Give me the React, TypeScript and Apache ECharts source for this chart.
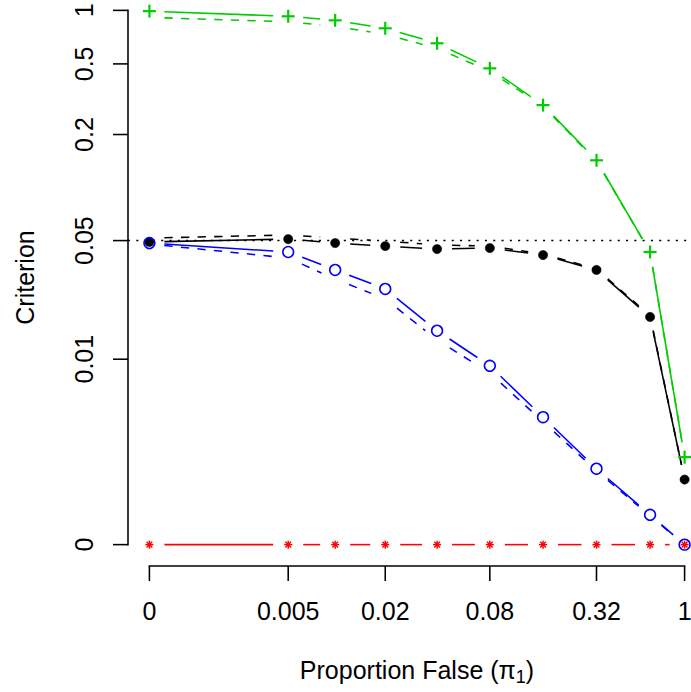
import React, { useEffect, useRef } from "react";
import * as echarts from "echarts";

// ---- data ----
const X_VALUES = [0, 0.005, 0.01, 0.02, 0.04, 0.08, 0.16, 0.32, 0.64, 1];

const GREEN_MAIN = [0.99, 0.926, 0.879, 0.793, 0.653, 0.472, 0.293, 0.143, 0.043, 0.0021];
const GREEN_DASHED = [0.913, 0.862, 0.813, 0.733, 0.612, 0.454, 0.289, 0.1415, 0.043, 0.0021];

const BLACK_MAIN = [0.0491, 0.051, 0.0484, 0.0465, 0.0447, 0.0453, 0.0413, 0.0339, 0.018, 0.00132];
const BLACK_DASHED = [0.0517, 0.0538, 0.0517, 0.0497, 0.0472, 0.0465, 0.0419, 0.0343, 0.0183, 0.00132];

const BLUE_MAIN = [0.0484, 0.043, 0.0339, 0.0263, 0.0149, 0.0091, 0.0042, 0.00167, 0.00047, 0];
const BLUE_DASHED = [0.0478, 0.0397, 0.03, 0.023, 0.0131, 0.0082, 0.0039, 0.0016, 0.00045, 0];

const RED_MAIN = [0, 0, 0, 0, 0, 0, 0, 0, 0, 0];

const REFERENCE_LEVEL = 0.05;

const X_TICKS = [0, 0.005, 0.02, 0.08, 0.32, 1];
const X_TICK_LABELS = ["0", "0.005", "0.02", "0.08", "0.32", "1"];
const Y_TICKS = [0, 0.01, 0.05, 0.2, 0.5, 1];
const Y_TICK_LABELS = ["0", "0.01", "0.05", "0.2", "0.5", "1"];

// ---- scale transform: log10(v + 0.001) ----
const OFFSET = 0.001;
const T = (v: number) => Math.log10(v + OFFSET);

const FONT = "'Liberation Sans', Arial, Helvetica, sans-serif";
const LW = 1.56;
const GAP = 15;
const TICK_LEN = 15;

const GREEN = "#00CD00";
const BLUE = "#0000FF";
const RED = "#FF0000";
const BLACK = "#000000";

function extent(vals: number[]) {
  const lo = T(Math.min(...vals));
  const hi = T(Math.max(...vals));
  const pad = 0.04 * (hi - lo);
  return [lo - pad, hi + pad];
}

function segData(xs: number[], ys: number[]) {
  const out: number[][] = [];
  for (let i = 0; i < xs.length - 1; i++) {
    out.push([T(xs[i]), T(ys[i]), T(xs[i + 1]), T(ys[i + 1])]);
  }
  return out;
}

function gappedLines(ys: number[], color: string, dash: number[] | null, z: number) {
  return {
    type: "custom",
    coordinateSystem: "cartesian2d",
    clip: false,
    z,
    silent: true,
    data: segData(X_VALUES, ys),
    encode: { x: [0, 2], y: [1, 3] },
    renderItem: (params: any, api: any) => {
      const p1 = api.coord([api.value(0), api.value(1)]);
      const p2 = api.coord([api.value(2), api.value(3)]);
      const dx = p2[0] - p1[0];
      const dy = p2[1] - p1[1];
      const len = Math.sqrt(dx * dx + dy * dy);
      if (len <= 2 * GAP) return null;
      const ux = dx / len;
      const uy = dy / len;
      return {
        type: "line",
        shape: {
          x1: p1[0] + ux * GAP,
          y1: p1[1] + uy * GAP,
          x2: p2[0] - ux * GAP,
          y2: p2[1] - uy * GAP,
        },
        style: {
          stroke: color,
          lineWidth: LW,
          lineDash: dash || undefined,
          fill: null,
        },
      };
    },
  };
}

function markers(ys: number[], kind: string, color: string, z: number) {
  return {
    type: "custom",
    coordinateSystem: "cartesian2d",
    clip: false,
    z,
    silent: true,
    data: X_VALUES.map((x, i) => [T(x), T(ys[i])]),
    encode: { x: 0, y: 1 },
    renderItem: (params: any, api: any) => {
      const p = api.coord([api.value(0), api.value(1)]);
      const cx = p[0];
      const cy = p[1];
      if (kind === "plus") {
        const h = 6.5;
        return {
          type: "group",
          children: [
            { type: "line", shape: { x1: cx - h, y1: cy, x2: cx + h, y2: cy }, style: { stroke: color, lineWidth: 2.2 } },
            { type: "line", shape: { x1: cx, y1: cy - h, x2: cx, y2: cy + h }, style: { stroke: color, lineWidth: 2.2 } },
          ],
        };
      }
      if (kind === "dot") {
        return { type: "circle", shape: { cx, cy, r: 4.6 }, style: { fill: color, stroke: color, lineWidth: 0.5 } };
      }
      if (kind === "ring") {
        return { type: "circle", shape: { cx, cy, r: 5.4 }, style: { fill: null, stroke: color, lineWidth: LW } };
      }
      const r = 4;
      const children: any[] = [];
      for (let k = 0; k < 4; k++) {
        const a = (k * Math.PI) / 4;
        children.push({
          type: "line",
          shape: { x1: cx - r * Math.cos(a), y1: cy - r * Math.sin(a), x2: cx + r * Math.cos(a), y2: cy + r * Math.sin(a) },
          style: { stroke: color, lineWidth: 1.5 },
        });
      }
      return { type: "group", children };
    },
  };
}

// axis line + outward ticks, R style (line spans first..last tick)
function axisSeries(dim: "x" | "y", ticksT: number[], otherMin: number) {
  return {
    type: "custom",
    coordinateSystem: "cartesian2d",
    clip: false,
    z: 1,
    silent: true,
    data: ticksT.map((t) => [t]),
    renderItem: (params: any, api: any) => {
      const t = api.value(0);
      const p = dim === "x" ? api.coord([t, otherMin]) : api.coord([otherMin, t]);
      const children: any[] = [];
      if (dim === "x") {
        children.push({ type: "line", shape: { x1: p[0], y1: p[1], x2: p[0], y2: p[1] + TICK_LEN }, style: { stroke: BLACK, lineWidth: LW } });
      } else {
        children.push({ type: "line", shape: { x1: p[0], y1: p[1], x2: p[0] - TICK_LEN, y2: p[1] }, style: { stroke: BLACK, lineWidth: LW } });
      }
      if (params.dataIndex === 0) {
        const last = ticksT[ticksT.length - 1];
        const q = dim === "x" ? api.coord([last, otherMin]) : api.coord([otherMin, last]);
        children.push({ type: "line", shape: { x1: p[0], y1: p[1], x2: q[0], y2: q[1] }, style: { stroke: BLACK, lineWidth: LW, lineCap: "square" } });
      }
      return { type: "group", children };
    },
  };
}

export default function App() {
  const ref = useRef<HTMLDivElement>(null);

  useEffect(() => {
    if (!ref.current) return;
    const chart = echarts.init(ref.current, null, { renderer: "svg" });

    const [xMin, xMax] = extent(X_VALUES);
    const [yMin, yMax] = extent(Y_TICKS);
    const xTickT = X_TICKS.map(T);
    const yTickT = Y_TICKS.map(T);

    const labelFor = (ticksT: number[], labels: string[]) => (val: number) => {
      let best = 0;
      let bd = Infinity;
      ticksT.forEach((t, i) => {
        const d = Math.abs(t - val);
        if (d < bd) {
          bd = d;
          best = i;
        }
      });
      return labels[best];
    };

    const DASH = [8.3, 8.3];

    const option: any = {
      animation: false,
      backgroundColor: "#ffffff",
      grid: { left: 128, right: -15, top: -11, bottom: 126, containLabel: false, outerBoundsMode: "none" },
      xAxis: {
        type: "value",
        min: xMin,
        max: xMax,
        axisLine: { show: false },
        splitLine: { show: false },
        axisTick: { show: false },
        axisLabel: {
          show: true,
          customValues: xTickT,
          formatter: labelFor(xTickT, X_TICK_LABELS),
          fontSize: 25,
          fontFamily: FONT,
          color: BLACK,
          margin: 32,
        },
        name: "{a|Proportion False (π}{b|1}{a|)}",
        nameLocation: "middle",
        nameGap: 91,
        nameTextStyle: {
          fontSize: 25,
          fontFamily: FONT,
          color: BLACK,
          rich: {
            a: { fontSize: 25, fontFamily: FONT, color: BLACK, verticalAlign: "bottom", padding: [0, 0, 4, 0] },
            b: { fontSize: 18, fontFamily: FONT, color: BLACK, verticalAlign: "bottom" },
          },
        },
      },
      yAxis: {
        type: "value",
        min: yMin,
        max: yMax,
        axisLine: { show: false },
        splitLine: { show: false },
        axisTick: { show: false },
        axisLabel: {
          show: true,
          customValues: yTickT,
          formatter: labelFor(yTickT, Y_TICK_LABELS),
          rotate: 90,
          fontSize: 25,
          fontFamily: FONT,
          color: BLACK,
          margin: 32,
        },
        name: "Criterion",
        nameLocation: "middle",
        nameRotate: 90,
        nameGap: 91,
        nameTextStyle: { fontSize: 25, fontFamily: FONT, color: BLACK },
      },
      series: [
        axisSeries("x", xTickT, yMin),
        axisSeries("y", yTickT, xMin),
        {
          type: "line",
          silent: true,
          clip: false,
          symbol: "none",
          z: 2,
          data: [
            [xMin, T(REFERENCE_LEVEL)],
            [xMax, T(REFERENCE_LEVEL)],
          ],
          lineStyle: { color: BLACK, width: LW, type: [2.1, 6.2] },
        },
        gappedLines(GREEN_MAIN, GREEN, null, 3),
        gappedLines(GREEN_DASHED, GREEN, DASH, 3),
        gappedLines(BLACK_MAIN, BLACK, null, 3),
        gappedLines(BLACK_DASHED, BLACK, DASH, 3),
        gappedLines(BLUE_MAIN, BLUE, null, 3),
        gappedLines(BLUE_DASHED, BLUE, DASH, 3),
        gappedLines(RED_MAIN, RED, null, 3),
        markers(GREEN_MAIN, "plus", GREEN, 4),
        markers(BLACK_MAIN, "dot", BLACK, 4),
        markers(BLUE_MAIN, "ring", BLUE, 5),
        markers(RED_MAIN, "star", RED, 5),
      ],
    };

    chart.setOption(option);
    return () => {
      chart.dispose();
    };
  }, []);

  return (
    <div
      ref={ref}
      style={{ position: "fixed", left: 0, top: 0, width: 691, height: 692, background: "#fff" }}
    />
  );
}
